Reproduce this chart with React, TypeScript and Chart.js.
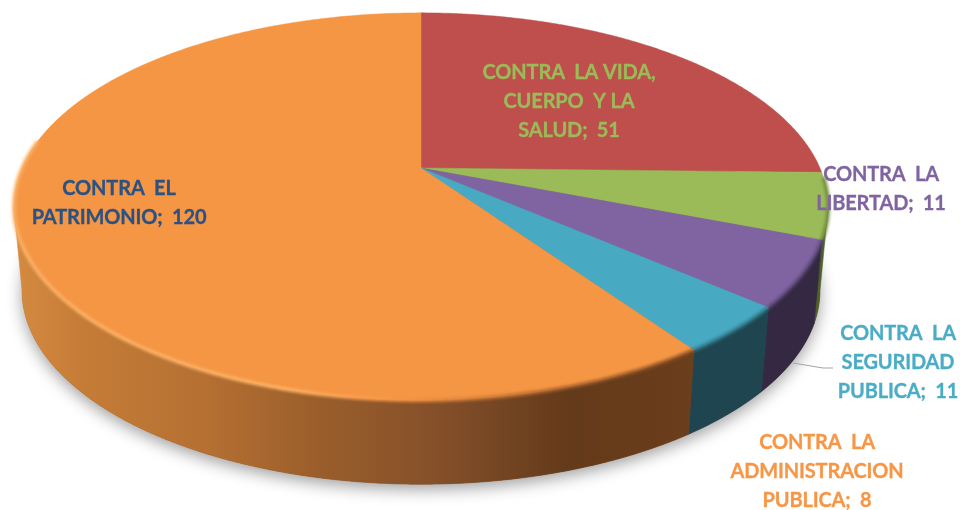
import React, { useEffect, useRef } from "react";
import { Chart, registerables } from "chart.js";

Chart.register(...registerables);

const categories = [
  "CONTRA LA VIDA, CUERPO Y LA SALUD",
  "CONTRA LA LIBERTAD",
  "CONTRA LA SEGURIDAD PUBLICA",
  "CONTRA LA ADMINISTRACION PUBLICA",
  "CONTRA EL PATRIMONIO",
];
const values = [51, 11, 11, 8, 120];
const wordsPerLine = [[3, 3, 2], [2, 2], [2, 1, 2], [2, 1, 2], [2, 2]];

const topColors = ["#BE4F4C", "#9BBB59", "#8064A2", "#48A9C3", "#F59645"];
const sideColors = ["#5e2725", "#4f6128", "#352843", "#1f4550", "#8b5328"];
const rimColors = ["#8e3d3a", "#6f8a3c", "#5a4673", "#2f7587", "#f59645"];
const labelColors = ["#9BBB59", "#8064A2", "#4BACC6", "#F79646", "#2B5283"];
const labelAnchors = [
  [569, 79], [881, 181], [898, 340], [817, 449], [119, 195],
];

const PERSPECTIVE = 0.199;
const STRETCH_X = 2.574;
const STRETCH_Y = 1.2;
const DEPTH = 84;
const BASE_SHRINK = 0.98;
const HORIZON = Math.asin(PERSPECTIVE);

function project(arc: any, a: number, lower = false) {
  const w = 1 - PERSPECTIVE * Math.sin(a);
  let x = (arc.outerRadius * STRETCH_X * Math.cos(a)) / w;
  let y = (arc.outerRadius * STRETCH_Y * Math.sin(a)) / w;
  if (lower) {
    x *= BASE_SHRINK;
    y += DEPTH;
  }
  return { x: arc.x + x, y: arc.y + y };
}

function traceArc(ctx: any, arc: any, from: number, to: number, lower = false, join = true) {
  const n = Math.max(2, Math.ceil(Math.abs(to - from) / 0.008));
  for (let i = 0; i <= n; i++) {
    const p = project(arc, from + ((to - from) * i) / n, lower);
    if (i === 0 && !join) ctx.moveTo(p.x, p.y);
    else ctx.lineTo(p.x, p.y);
  }
}

const pie3d = {
  id: "pie3d",
  beforeDatasetsDraw(chart: any) {
    const { ctx } = chart;
    const arcs = chart.getDatasetMeta(0).data;
    const first = arcs[0];
    const visFrom = HORIZON;
    const visTo = Math.PI - HORIZON;

    // ground shadow
    ctx.save();
    ctx.shadowColor = "rgba(0,0,0,0.38)";
    ctx.shadowBlur = 16;
    ctx.shadowOffsetY = 5;
    ctx.fillStyle = "#8b5328";
    ctx.beginPath();
    traceArc(ctx, first, 0, Math.PI * 2, true, false);
    ctx.closePath();
    ctx.fill();
    ctx.restore();

    // side walls
    arcs.forEach((arc: any, i: number) => {
      const from = Math.max(arc.startAngle, visFrom);
      const to = Math.min(arc.endAngle, visTo);
      if (to <= from) return;
      ctx.beginPath();
      traceArc(ctx, arc, from, to, false, false);
      traceArc(ctx, arc, to, from, true, true);
      ctx.closePath();
      if (i === 4) {
        const g = ctx.createLinearGradient(15, 0, 692, 0);
        g.addColorStop(0, "#d58a40");
        g.addColorStop(0.1, "#c57c37");
        g.addColorStop(0.28, "#b57032");
        g.addColorStop(0.45, "#9a5e2b");
        g.addColorStop(0.62, "#85502a");
        g.addColorStop(0.82, "#633a1a");
        g.addColorStop(1, "#6b3e1c");
        ctx.fillStyle = g;
      } else {
        ctx.fillStyle = sideColors[i];
      }
      ctx.fill();
      ctx.strokeStyle = ctx.fillStyle;
      ctx.lineWidth = 0.6;
      ctx.stroke();
    });

    // top faces
    arcs.forEach((arc: any, i: number) => {
      ctx.beginPath();
      ctx.moveTo(arc.x, arc.y);
      traceArc(ctx, arc, arc.startAngle, arc.endAngle);
      ctx.closePath();
      ctx.fillStyle = topColors[i];
      ctx.fill();
      ctx.strokeStyle = topColors[i];
      ctx.lineWidth = 0.5;
      ctx.stroke();
    });

    // soft bevel along the front rim
    ctx.save();
    ctx.filter = "blur(1.6px)";
    ctx.lineCap = "butt";
    arcs.forEach((arc: any, i: number) => {
      if (i === 0) return;
      const from = Math.max(arc.startAngle, 0.05);
      const to = Math.min(arc.endAngle, visTo + 0.35);
      if (to <= from) return;
      ctx.beginPath();
      traceArc(ctx, arc, from, to, false, false);
      if (i === 4) {
        const g = ctx.createLinearGradient(15, 0, 692, 0);
        g.addColorStop(0, "#fbb268");
        g.addColorStop(0.4, "#ffb468");
        g.addColorStop(0.58, "#f39242");
        g.addColorStop(0.8, "#a8622c");
        g.addColorStop(1, "#8a5024");
        ctx.strokeStyle = g;
      } else {
        ctx.strokeStyle = rimColors[i];
      }
      ctx.lineWidth = 3.5;
      ctx.stroke();
    });
    ctx.restore();

    return false;
  },
  afterDraw(chart: any) {
    const { ctx } = chart;
    // leader line
    ctx.save();
    ctx.strokeStyle = "#a6a6a6";
    ctx.lineWidth = 1.2;
    ctx.beginPath();
    ctx.moveTo(793, 363);
    ctx.lineTo(823, 368);
    ctx.lineTo(833, 368);
    ctx.stroke();

    ctx.font = "bold 20px Lato";
    ctx.textAlign = "center";
    ctx.textBaseline = "alphabetic";
    (ctx as any).letterSpacing = "-0.15px";
    ctx.lineWidth = 0.3;
    categories.forEach((name, i) => {
      const words = `${name}; ${values[i]}`.split(" ");
      let cursor = 0;
      ctx.fillStyle = labelColors[i];
      ctx.strokeStyle = labelColors[i];
      wordsPerLine[i].forEach((count, line) => {
        const part = words.slice(cursor, cursor + count);
        cursor += count;
        const text = part.length > 1 ? `${part[0]}  ${part.slice(1).join(" ")}` : part[0];
        const y = labelAnchors[i][1] + line * 29;
        ctx.fillText(text, labelAnchors[i][0], y);
        ctx.strokeText(text, labelAnchors[i][0], y);
      });
    });
    ctx.restore();
  },
};

export default function App() {
  const ref = useRef<HTMLCanvasElement>(null);
  useEffect(() => {
    const chart = new Chart(ref.current as HTMLCanvasElement, {
      type: "pie",
      data: {
        labels: categories,
        datasets: [{ data: values, backgroundColor: topColors, borderWidth: 0 }],
      },
      options: {
        responsive: false,
        animation: false,
        rotation: 0,
        layout: { padding: { left: 21, right: 139, top: 13, bottom: 187 } },
        plugins: { legend: { display: false }, tooltip: { enabled: false } },
      },
      plugins: [pie3d],
    } as any);
    return () => chart.destroy();
  }, []);
  return (
    <div style={{ position: "absolute", left: 0, top: 0, width: 960, height: 510, background: "#fff" }}>
      <canvas ref={ref} width={960} height={510} style={{ display: "block" }} />
    </div>
  );
}
